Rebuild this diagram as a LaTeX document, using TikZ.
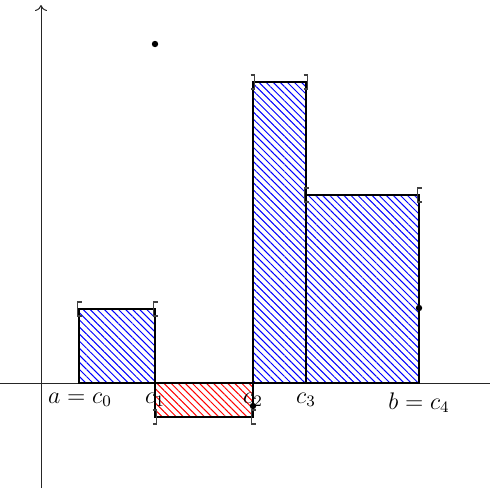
\documentclass[tikz,border=0pt]{standalone}
\usetikzlibrary{patterns.meta,arrows.meta}
\begin{document}
\begin{tikzpicture}[x=0.5pt,y=-0.5pt,
  axis/.style={line width=0.5pt,draw=black!85},
  bluebar/.style={draw=black,line width=0.6pt,pattern={Lines[angle=-45,distance=2.5pt,line width=0.5pt]},pattern color=blue},
  redbar/.style={draw=black,line width=0.6pt,pattern={Lines[angle=-45,distance=2.5pt,line width=0.5pt]},pattern color=red},
  brk/.style={draw=black!75,line width=0.6pt},
  dot/.style={circle,fill=black,inner sep=0pt,minimum size=3.2pt},
  lab/.style={anchor=base,inner sep=0pt,font=\fontsize{12}{14}\selectfont}]
\useasboundingbox (0,0) rectangle (490,488);
% axes
\coordinate (xl) at (0,383);
\coordinate (xr) at (490,383);
\coordinate (yb) at (41,488);
\coordinate (yt) at (41,5);
\draw[axis] (xl) -- (xr);
\draw[axis,-{To[length=3pt,width=6pt]}] (yb) -- (yt);
% bars
\draw[bluebar] (79,309) rectangle (155,383);
\draw[redbar] (155,383) rectangle (253,417);
\draw[bluebar] (253,82) rectangle (306,383);
\draw[bluebar] (306,195) rectangle (419,383);
% brackets "[" and "]"
\draw[brk] (81.5,302) -- (77.5,302) -- (77.5,316) -- (81.5,316);
\draw[brk] (157.5,302) -- (153.5,302) -- (153.5,316) -- (157.5,316);
\draw[brk] (250.5,75) -- (254.5,75) -- (254.5,89) -- (250.5,89);
\draw[brk] (303.5,75) -- (307.5,75) -- (307.5,89) -- (303.5,89);
\draw[brk] (308.5,188) -- (304.5,188) -- (304.5,202) -- (308.5,202);
\draw[brk] (421.5,188) -- (417.5,188) -- (417.5,202) -- (421.5,202);
\draw[brk] (152.5,410) -- (156.5,410) -- (156.5,424) -- (152.5,424);
\draw[brk] (255.5,410) -- (251.5,410) -- (251.5,424) -- (255.5,424);
% dots
\node[dot] (p1) at (155,44) {};
\node[dot] (p2) at (253,406) {};
\node[dot] (p3) at (419,308) {};
% labels
\node[lab] (l0) at (80,403) {$a=c_0$};
\node[lab] (l1) at (155,403) {$c_1$};
\node[lab] (l2) at (253,403) {$c_2$};
\node[lab] (l3) at (306,403) {$c_3$};
\node[lab] (l4) at (419,409) {$b=c_4$};
\end{tikzpicture}
\end{document}
